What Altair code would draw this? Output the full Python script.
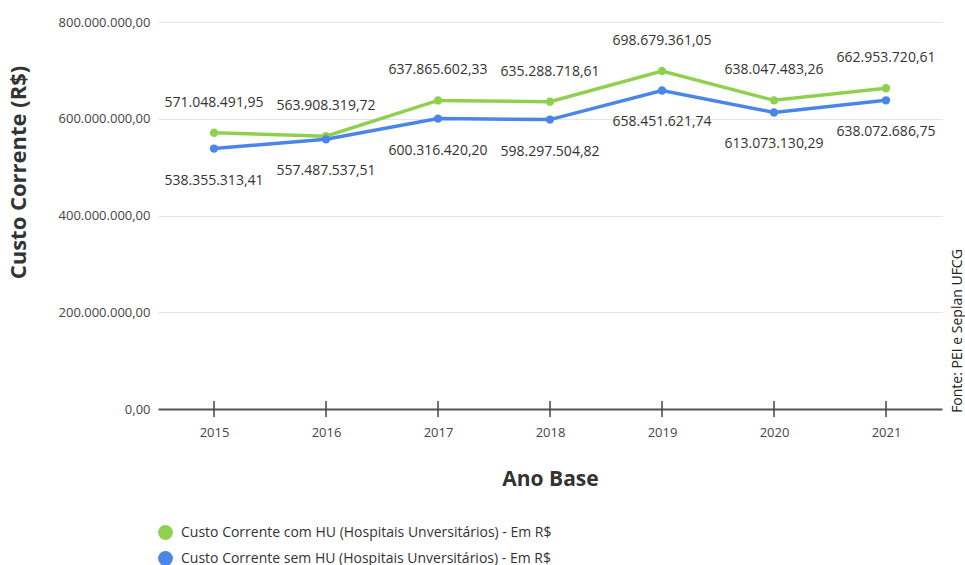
import altair as alt
import pandas as pd

# Ano base e custos correntes (R$)
anos = ["2015", "2016", "2017", "2018", "2019", "2020", "2021"]
com_hu = [571048491.95, 563908319.72, 637865602.33, 635288718.61,
          698679361.05, 638047483.26, 662953720.61]
sem_hu = [538355313.41, 557487537.51, 600316420.20, 598297504.82,
          658451621.74, 613073130.29, 638072686.75]
series = [
    "Custo Corrente com HU (Hospitais Unversitários) - Em R$",
    "Custo Corrente sem HU (Hospitais Unversitários) - Em R$",
]
colors = ["#8fd14f", "#4a86e8"]
y_ticks = [0, 200000000, 400000000, 600000000, 800000000]
fonte = "Fonte: PEI e Seplan UFCG"


def brl(v):
    """Formata número no padrão brasileiro: 1.234.567,89"""
    s = f"{v:,.2f}"
    return s.replace(",", "#").replace(".", ",").replace("#", ".")


rows = []
for serie, valores in zip(series, [com_hu, sem_hu]):
    for ano, v in zip(anos, valores):
        rows.append({"ano": ano, "serie": serie, "valor": v, "rotulo": brl(v)})
df = pd.DataFrame(rows)

FONT = "Open Sans"
brl_expr = ("join(split(join(split(join(split(format(datum.value, ',.2f'), '.'), '#'), ','), '.'), '#'), ',')")

x_enc = alt.X(
    "ano:N",
    sort=anos,
    scale=alt.Scale(type="point", padding=0.5),
    axis=alt.Axis(
        title="Ano Base", titleFont=FONT, titleFontSize=21, titleFontWeight="bold",
        titleColor="#333", titlePadding=29,
        labelAngle=0, labelFont=FONT, labelFontSize=13, labelColor="#444",
        labelPadding=17, ticks=False, domainColor="#555", domainWidth=2,
        grid=False,
    ),
)
y_enc = alt.Y(
    "valor:Q",
    scale=alt.Scale(domain=[0, 800000000], nice=False),
    axis=alt.Axis(
        values=y_ticks, labelExpr=brl_expr, domain=False, ticks=False,
        grid=True, gridColor="#e4e4e4", gridWidth=1,
        labelFont=FONT, labelFontSize=13, labelColor="#444", labelPadding=8,
        title="Custo Corrente (R$)", titleFont=FONT, titleFontSize=22,
        titleFontWeight="bold", titleColor="#333",
        titleX=-128, titleY=150, titleAngle=270, titleAlign="center",
        titleBaseline="bottom",
    ),
)
legenda = alt.Legend(
    title=None, orient="none", legendX=0, legendY=503,
    symbolType="circle", symbolSize=220, symbolStrokeWidth=0,
    symbolOpacity=1, labelFont=FONT, labelFontSize=14, labelLimit=0,
    labelColor="#333", rowPadding=11, labelOffset=8,
)
color_enc = alt.Color("serie:N", sort=series,
                      scale=alt.Scale(domain=series, range=colors), legend=legenda)

base = alt.Chart(df)

linhas = base.mark_line(strokeWidth=3.5).encode(x=x_enc, y=y_enc, color=color_enc)

pontos = base.mark_circle(size=70, opacity=1).encode(x=x_enc, y=y_enc, color=color_enc)

# marcas de escala do eixo x, cruzando a linha de base
marcas = (
    base.transform_filter(alt.datum.serie == series[0])
    .transform_calculate(base_lo="-16500000", base_hi="16500000")
    .mark_rule(color="#444", strokeWidth=1.5)
    .encode(x=x_enc, y=alt.Y("base_lo:Q"), y2="base_hi:Q")
)

rot_com = base.transform_filter(alt.datum.serie == series[0]).mark_text(
    dy=-30, font=FONT, fontSize=14, color="#333"
).encode(x=x_enc, y=y_enc, text="rotulo:N")

rot_sem = base.transform_filter(alt.datum.serie == series[1]).mark_text(
    dy=32, font=FONT, fontSize=14, color="#333"
).encode(x=x_enc, y=y_enc, text="rotulo:N")

fonte_txt = alt.Chart(pd.DataFrame({"t": [fonte]})).mark_text(
    angle=270, font=FONT, fontSize=14, color="#222", align="center", baseline="middle"
).encode(x=alt.value(800), y=alt.value(309), text="t:N")

chart = (
    alt.layer(linhas, pontos, rot_com, rot_sem, fonte_txt, marcas)
    .properties(
        width=784, height=387,
        autosize=alt.AutoSizeParams(type="none"),
        padding={"left": 158, "top": 22, "right": 23, "bottom": 156},
        background="white",
    )
    .configure_view(stroke=None)
)

chart.save("out.html", embed_options={"renderer": "svg", "actions": False})
